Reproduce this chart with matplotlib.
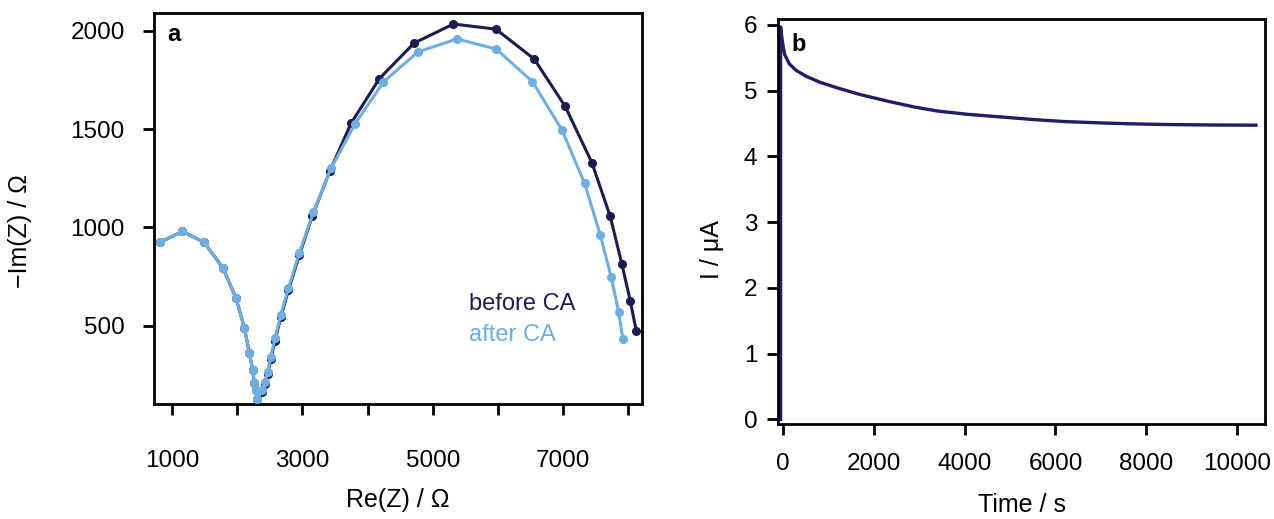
import matplotlib
matplotlib.use("Agg")
import matplotlib.pyplot as plt

plt.rcParams['font.family'] = ['Liberation Sans', 'DejaVu Sans']

# (a) Nyquist data: Re(Z) and -Im(Z) in Ohm
re_before = [816, 1158, 1491, 1778, 1982, 2110, 2187, 2239, 2263, 2289, 2309,
             2377, 2427, 2469, 2515, 2581, 2668, 2785, 2954, 3154, 3425, 3748,
             4182, 4714, 5318, 5968, 6557, 7032, 7441, 7723, 7902, 8030, 8122]
im_before = [925, 980, 925, 796, 641, 491, 361, 276, 211, 173, 127,
             165, 205, 255, 330, 425, 545, 680, 860, 1060, 1289, 1530,
             1757, 1937, 2034, 2008, 1856, 1615, 1330, 1056, 813, 627, 474]

re_after = [816, 1158, 1491, 1778, 1982, 2110, 2187, 2239, 2263, 2289, 2309,
            2377, 2427, 2469, 2515, 2581, 2668, 2785, 2954, 3169, 3441, 3809,
            4243, 4771, 5370, 5973, 6530, 6981, 7329, 7570, 7738, 7851, 7917]
im_after = [925, 980, 925, 796, 641, 491, 361, 276, 211, 173, 127,
            173, 216, 267, 343, 437, 556, 691, 872, 1078, 1302, 1527,
            1739, 1892, 1958, 1907, 1741, 1496, 1225, 962, 747, 571, 434]

# (b) chronoamperometry: time in s, current in uA
time_s = [-60, -60, -40, -10, 30, 130, 280, 500, 800, 1200, 1700, 2300,
          2900, 3400, 4070, 4800, 5530, 6200, 6980, 7700, 8450, 9400, 10420]
current_uA = [0.0, 5.97, 5.85, 5.70, 5.55, 5.41, 5.31, 5.22, 5.13, 5.04,
              4.94, 4.84, 4.75, 4.69, 4.64, 4.60, 4.56, 4.53, 4.51, 4.495,
              4.485, 4.478, 4.475]

x_ticks_a = [1000, 2000, 3000, 4000, 5000, 6000, 7000, 8000]
x_labels_a = ['1000', '', '3000', '', '5000', '', '7000', '']
y_ticks_a = [500, 1000, 1500, 2000]
x_ticks_b = [0, 2000, 4000, 6000, 8000, 10000]
y_ticks_b = [0, 1, 2, 3, 4, 5, 6]

dark = '#1b1c50'
light = '#6eaee2'
navy = '#1e1f66'

fig = plt.figure(figsize=(12.74, 5.19), dpi=100)
ax1 = fig.add_axes([154 / 1274, 1 - 404 / 519, 488 / 1274, 391 / 519])
ax2 = fig.add_axes([778 / 1274, 1 - 424 / 519, 487 / 1274, 405 / 519])

ax1.plot(re_before, im_before, '-o', color=dark, lw=2.2, ms=5.5, zorder=2)
ax1.plot(re_after, im_after, '-o', color=light, lw=2.2, ms=5.5, zorder=3)
ax1.set_xlim(724, 8210)
ax1.set_ylim(103, 2090)
ax1.set_xticks(x_ticks_a)
ax1.set_xticklabels(x_labels_a)
ax1.set_yticks(y_ticks_a)
ax1.set_xlabel('Re(Z) / \u03a9', fontsize=18, va='center')
ax1.set_ylabel('\u2212Im(Z) / \u03a9', fontsize=18, va='center')
ax1.xaxis.set_label_coords(0.5, (404 - 500) / 391)
ax1.yaxis.set_label_coords((20 - 154) / 488, (404 - 231) / 391)
ax1.text(0.028, 0.975, 'a', transform=ax1.transAxes, fontsize=17,
         fontweight='bold', va='top', ha='left')
ax1.text(0.645, 0.257, 'before CA', transform=ax1.transAxes, fontsize=17,
         color=dark, va='center', ha='left')
ax1.text(0.645, 0.177, 'after CA', transform=ax1.transAxes, fontsize=17,
         color=light, va='center', ha='left')

ax2.plot(time_s, current_uA, '-', color=navy, lw=2.4)
ax2.set_xlim(-117, 10620)
ax2.set_ylim(-0.07, 6.09)
ax2.set_xticks(x_ticks_b)
ax2.set_yticks(y_ticks_b)
ax2.set_xlabel('Time / s', fontsize=18, va='center')
ax2.set_ylabel('I / \u03bcA', fontsize=18, va='center')
ax2.xaxis.set_label_coords(0.5, (424 - 505) / 405)
ax2.yaxis.set_label_coords((712 - 778) / 487, (424 - 250) / 405)
ax2.text(0.028, 0.965, 'b', transform=ax2.transAxes, fontsize=17,
         fontweight='bold', va='top', ha='left')

for ax in (ax1, ax2):
    for sp in ax.spines.values():
        sp.set_linewidth(2.0)
        sp.set_color('black')
    ax.tick_params(direction='out', length=8, width=2.0, labelsize=17.5,
                   color='black')

ax1.tick_params(axis='y', pad=13)
ax1.tick_params(axis='x', pad=25)
ax2.tick_params(axis='y', pad=7)
ax2.tick_params(axis='x', pad=13)

fig.savefig('out.png', dpi=100)
